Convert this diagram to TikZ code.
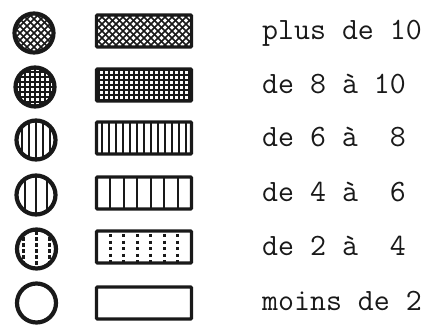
\documentclass[tikz,border=0pt]{standalone}
\usepackage{fontspec}
\begin{document}
\begin{tikzpicture}[x=1pt,y=-1pt,
  inkc/.style={black!90},
  swatch/.style={circle, draw=black!90, line width=4.2pt, minimum size=39pt, inner sep=0pt},
  bar/.style={rectangle, draw=black!90, line width=3.4pt, minimum width=95pt, minimum height=32pt, inner sep=0pt, rounded corners=1pt},
  lbl/.style={anchor=base west, inner sep=0pt, font=\ttfamily\fontsize{31}{31}\selectfont, text=black!90},
  crossfill/.style={path picture={
    \begin{scope}[shift={(path picture bounding box.center)}]
    \foreach \i in {-16,...,16}{
      \draw[line width=1.6pt,inkc] (\i*7-60,-60) -- (\i*7+60,60);
      \draw[line width=1.6pt,inkc] (\i*7-60,60) -- (\i*7+60,-60);}
    \end{scope}}},
  gridfill/.style={path picture={
    \begin{scope}[shift={(path picture bounding box.center)}]
    \foreach \i in {-10,...,10}{
      \draw[line width=1.05pt,inkc] (\i*5,-30) -- (\i*5,30);}
    \foreach \i in {-6,...,6}{
      \draw[line width=1.05pt,inkc] (-60,\i*5) -- (60,\i*5);}
    \end{scope}}},
  vfinefill/.style={path picture={
    \begin{scope}[shift={(path picture bounding box.center)}]
    \foreach \i in {-7,...,7}{
      \draw[line width=2pt,inkc] (\i*7,-30) -- (\i*7,30);}
    \end{scope}}},
  vwidebar/.style={path picture={
    \begin{scope}[shift={(path picture bounding box.center)}]
    \foreach \i in {-4,...,3}{
      \draw[line width=2pt,inkc] ({(\i+0.5)*13.6},-30) -- ({(\i+0.5)*13.6},30);}
    \end{scope}}},
  vwidecirc/.style={path picture={
    \begin{scope}[shift={(path picture bounding box.center)}]
    \foreach \i in {-1,0,1}{
      \draw[line width=2pt,inkc] (\i*11,-30) -- (\i*11,30);}
    \end{scope}}},
  dotbar/.style={path picture={
    \begin{scope}[shift={(path picture bounding box.center)}]
    \foreach \i in {-3,...,2}{
      \draw[line width=2.8pt,inkc,dash pattern=on 3pt off 3.5pt] ({(\i+0.5)*13.5},-13) -- ({(\i+0.5)*13.5},20);}
    \end{scope}}},
  dotcirc/.style={path picture={
    \begin{scope}[shift={(path picture bounding box.center)}]
    \foreach \i in {-1,0,1}{
      \draw[line width=2.4pt,inkc,dash pattern=on 3.5pt off 2.5pt] (\i*13,-18) -- (\i*13,20);}
    \end{scope}}}
]
\useasboundingbox (0,0) rectangle (434,325);

% row 1
\node[swatch, crossfill] (c1) at (34,33) {};
\node[bar, crossfill] (r1) at (144,31) {};
\node[lbl] (t1) at (262,39.5) {plus de 10};
% row 2
\node[swatch, gridfill] (c2) at (35,87) {};
\node[bar, gridfill] (r2) at (144,85) {};
\node[lbl] (t2) at (262,93) {de~8~à~10};
% row 3
\node[swatch, vfinefill] (c3) at (36,140) {};
\node[bar, vfinefill] (r3) at (144,138) {};
\node[lbl] (t3) at (262,146) {de~6~à~~8};
% row 4
\node[swatch, vwidecirc] (c4) at (36,195) {};
\node[bar, vwidebar] (r4) at (144,193) {};
\node[lbl] (t4) at (262,201.5) {de~4~à~~6};
% row 5
\node[swatch, dotcirc] (c5) at (36.5,249) {};
\node[bar, dotbar] (r5) at (144,247) {};
\node[lbl] (t5) at (262,255) {de~2~à~~4};
% row 6
\node[swatch] (c6) at (36.5,303) {};
\node[bar] (r6) at (144,303) {};
\node[lbl] (t6) at (262,310) {moins de 2};
\end{tikzpicture}
\end{document}
